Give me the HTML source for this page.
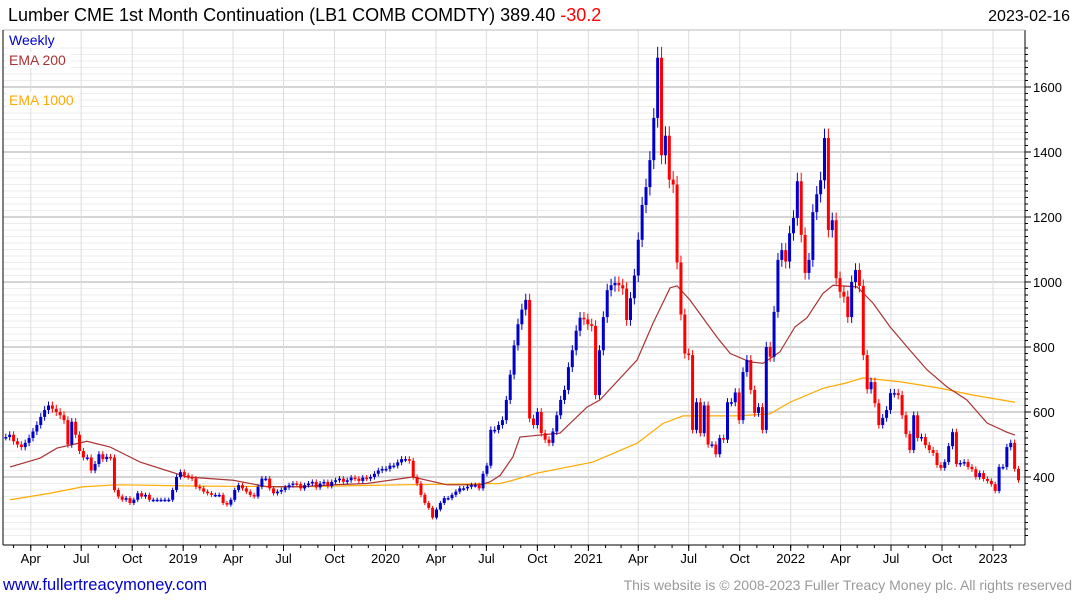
<!DOCTYPE html>
<html><head><meta charset="utf-8"><style>
body{margin:0;background:#fff;width:1075px;height:600px;overflow:hidden;font-family:"Liberation Sans","DejaVu Sans",sans-serif}
svg{display:block}
</style></head><body>
<svg id="chart" width="1075" height="600">
<text x="8" y="21" font-size="18" fill="#000">Lumber CME 1st Month Continuation (LB1 COMB COMDTY) 389.40 <tspan fill="#f00">-30.2</tspan></text>
<text x="1070" y="21" font-size="16" text-anchor="end" fill="#000">2023-02-16</text>
<g id="grid"></g><g id="emas"></g><g id="candles"></g><g id="axes"></g>
<rect x="7" y="32" width="52" height="16" fill="#fff"/>
<text x="9" y="45" font-size="14" fill="#00c">Weekly</text>
<rect x="7" y="52" width="64" height="16" fill="#fff"/>
<text x="9" y="65" font-size="14" fill="#a33">EMA 200</text>
<rect x="7" y="92" width="72" height="16" fill="#fff"/>
<text x="9" y="105" font-size="14" fill="#fa0">EMA 1000</text>
<text x="3" y="590" font-size="16.5" fill="#00c">www.fullertreacymoney.com</text>
<text x="1072" y="590" font-size="14" fill="#999" text-anchor="end">This website is © 2008-2023 Fuller Treacy Money plc. All rights reserved</text>
</svg>
<script>
const closes=[523,530,510,500,492,505,520,540,560,585,606,620,610,600,590,575,500,570,530,480,460,460,420,440,470,455,462,460,360,340,330,335,320,330,350,340,345,330,330,330,330,330,330,360,400,415,405,400,395,370,365,355,350,345,345,345,320,315,330,360,375,365,355,345,340,370,395,395,365,350,355,360,368,375,380,378,365,375,380,385,368,380,385,372,385,390,395,385,390,398,395,388,398,395,400,410,420,425,425,435,435,445,455,455,450,400,380,345,320,305,275,300,320,335,335,345,355,365,365,370,375,375,365,410,435,545,545,560,575,637,715,805,870,915,945,580,560,600,535,515,505,540,590,637,668,738,790,850,890,885,870,865,652,790,892,975,990,997,990,980,883,950,1020,1130,1237,1292,1375,1505,1690,1390,1450,1315,1300,1060,900,780,775,545,630,535,620,500,500,470,520,515,630,630,660,575,723,760,668,597,615,545,800,770,908,1068,1098,1063,1150,1197,1310,1145,1028,1068,1215,1270,1313,1443,1160,1190,1012,970,955,892,1000,1037,988,775,670,692,627,560,582,606,658,658,652,590,532,483,590,520,523,498,483,474,437,428,446,495,538,440,443,446,431,424,400,412,394,388,378,357,431,431,492,505,425,390];
const ema200Weeks=[1.1,8.8,13.2,20.9,26.9,34.6,46.7,58.6,67.3,75.8,84.3,93.1,104.9,113.7,122.2,124.8,127.4,130.7,132.5,137.7,142.8,149.8,153.1,162.7,166.8,171.2,173,176.3,183.3,186.7,191.8,195.2,199.5,203.4,206.5,210.6,213.2,219.4,223.5,227.9,232.3,237.4,242.6,247.7,252.9,258,260.1];
const ema200Vals=[431,458,489,510,492,446,400,390,370,370,376,380,400,376,376,385,405,462,523,529,535,615,637,760,873,982,988,945,830,780,754,750,785,862,890,965,990,985,935,862,800,730,677,637,566,538,529];
const ema1000Weeks=[1.1,11.4,19.9,28.7,50.1,75.8,101.6,127.4,130.7,136.9,151.3,162.7,169.4,174.5,188.4,196.9,202.1,210.6,216.8,220.9,230.5,240.8,249.3,260.1];
const ema1000Vals=[330,350,370,376,372,370,376,380,390,412,446,504,565,588,588,594,630,673,690,705,693,673,652,630];
const yTicks=[400,600,800,1000,1200,1400,1600];
const xLabels=["Apr","Jul","Oct","2019","Apr","Jul","Oct","2020","Apr","Jul","Oct","2021","Apr","Jul","Oct","2022","Apr","Jul","Oct","2023"];
const xLabelDates=["2018-04-01","2018-07-01","2018-10-01","2019-01-01","2019-04-01","2019-07-01","2019-10-01","2020-01-01","2020-04-01","2020-07-01","2020-10-01","2021-01-01","2021-04-01","2021-07-01","2021-10-01","2022-01-01","2022-04-01","2022-07-01","2022-10-01","2023-01-01"];
const NS="http://www.w3.org/2000/svg";
const PL=3,PR=1025,PT=30,PB=545;
function yS(v){return 477-(v-400)*0.325;}
const REF=Date.UTC(2023,0,1);
function xDate(s){const p=s.split('-');return 993+(Date.UTC(+p[0],+p[1]-1,+p[2])-REF)/864e5/7*3.88;}
const n=closes.length;
function xW(i){return 1018.5-(n-1-i)*3.88;}
function mk(t,a,parent){const e=document.createElementNS(NS,t);for(const k in a)e.setAttribute(k,a[k]);parent.appendChild(e);return e;}
const grid=document.getElementById('grid'),axes=document.getElementById('axes');
mk('rect',{x:PL,y:PT,width:PR-PL,height:PB-PT,fill:'#fff'},grid);
for(let v=220;v<=1720;v+=20){const y=yS(v);if(y<PT||y>PB)continue;
 const l=mk('line',{x1:PL,x2:PR,y1:y,y2:y,stroke:v%200===0?'#bbb':'#ececec','stroke-width':v%200===0?1.3:1},grid);
 
 
 mk('line',{x1:PR,x2:PR+(v%200===0?6:3),y1:y,y2:y,stroke:'#000'},axes);}
xLabelDates.forEach((d,i)=>{const x=xDate(d);
 const l=mk('line',{x1:x,x2:x,y1:PT,y2:PB,stroke:'#ddd'},grid);
 
 
 mk('line',{x1:x,x2:x,y1:PB,y2:PB+6,stroke:'#000'},axes);
 const t=mk('text',{x:x,y:PB+18,'font-size':13,'text-anchor':'middle',fill:'#000'},axes);t.textContent=xLabels[i];
 
 });
for(let m=0;m<62;m++){const d=new Date(Date.UTC(2018,1+m,1));const x=xDate(d.toISOString().slice(0,10));if(x>PL&&x<PR)mk('line',{x1:x,x2:x,y1:PB,y2:PB+3,stroke:'#000'},axes);}
yTicks.forEach(v=>{const t=mk('text',{x:1033,y:yS(v)+5,'font-size':13,fill:'#000'},axes);t.textContent=v;
 
 });
mk('line',{x1:PR,x2:PR,y1:PT,y2:PB,stroke:'#000'},axes);
mk('line',{x1:PL,x2:PR,y1:PB,y2:PB,stroke:'#000'},axes);
mk('line',{x1:PL,x2:PR,y1:PT,y2:PT,stroke:'#bbb'},axes);
mk('line',{x1:PL,x2:PL,y1:PT,y2:PB,stroke:'#000'},axes);
const emas=document.getElementById('emas');
function line(ws,vs,col,name){const p=mk('polyline',{points:ws.map((w,i)=>xW(w)+','+yS(vs[i])).join(' '),fill:'none',stroke:col,'stroke-width':1.2},emas);
 
 }
line(ema1000Weeks,ema1000Vals,'#fa0','ema-1000-line');
line(ema200Weeks,ema200Vals,'#a33','ema-200-line');
const cg=document.getElementById('candles');
closes.forEach((c,i)=>{const o=i?closes[i-1]:c;const up=c>=o;const col=up?'#00c':'#f00';const x=xW(i);
 const hi=Math.max(o,c)*1.02,lo=Math.min(o,c)*0.98;
 const g=mk('g',{},cg);
 
 
 mk('line',{x1:x,x2:x,y1:yS(hi),y2:yS(lo),stroke:col,'stroke-width':1},g);
 const y1=yS(Math.max(o,c)),y2=yS(Math.min(o,c));
 mk('rect',{x:x-1.5,y:y1,width:3,height:Math.max(1.5,y2-y1),fill:col},g);});
</script>
</body></html>
